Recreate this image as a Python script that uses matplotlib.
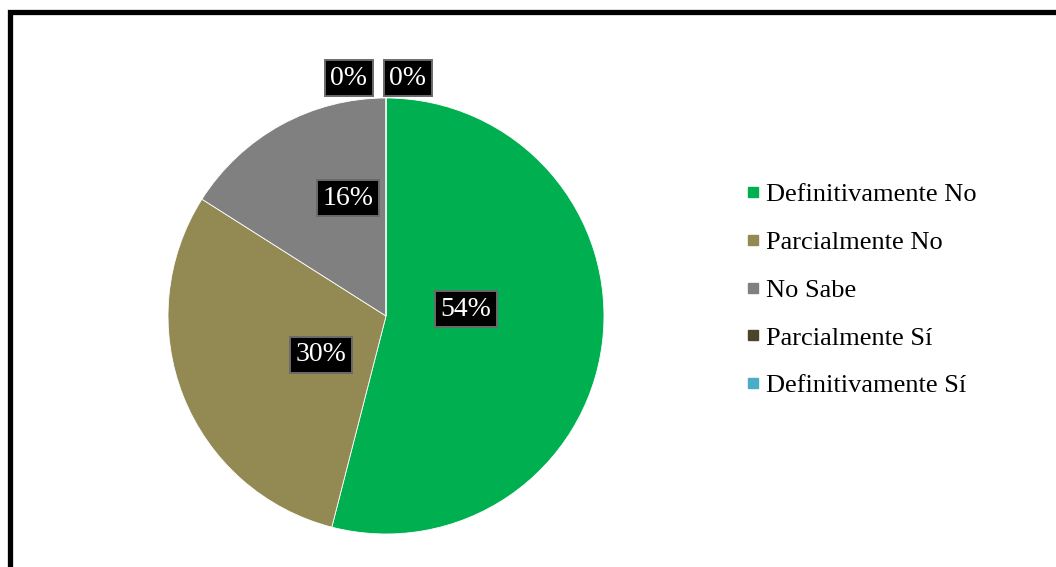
import numpy as np
import matplotlib
matplotlib.use("Agg")
from matplotlib import pyplot as plt
from matplotlib.patches import Rectangle
from matplotlib.lines import Line2D

categorias = ['Definitivamente No', 'Parcialmente No', 'No Sabe',
              'Parcialmente Sí', 'Definitivamente Sí']
porcentajes = [54, 30, 16, 0, 0]
colores = ['#00B050', '#938953', '#808080', '#4A452A', '#4BACC6']

# distancia radial de cada etiqueta (fraccion del radio) y ajuste fino x/y
dist_etiqueta = [0.37, 0.36, 0.57, 1.09, 1.09]
desp_x = [0, 0.037, 0.10, -0.17, 0.10]
desp_y = [0.078, -0.046, 0.04, 0, 0]

plt.rcParams['font.family'] = ['Liberation Serif', 'DejaVu Serif']

fig = plt.figure(figsize=(10.56, 5.67), dpi=100)
fig.patch.set_facecolor('white')

# marco del grafico (cortado a la derecha y abajo)
fig.patches.append(Rectangle((0.009, -0.2), 1.3, 0.978 + 0.2, transform=fig.transFigure,
                             fill=False, ec='black', lw=3.8, zorder=0))

ax = fig.add_axes([168 / 1056, 33 / 567, 436 / 1056, 436 / 567])
wedges, _ = ax.pie(porcentajes, colors=colores, startangle=90, counterclock=False,
                   radius=1, wedgeprops=dict(edgecolor='white', linewidth=0.6))
ax.set_xlim(-1, 1)
ax.set_ylim(-1, 1)
ax.set_aspect('equal')
ax.axis('off')

for w, p, r, dx, dy in zip(wedges, porcentajes, dist_etiqueta, desp_x, desp_y):
    ang = np.deg2rad((w.theta1 + w.theta2) / 2)
    x = r * np.cos(ang) + dx
    y = r * np.sin(ang) + dy
    ax.text(x, y, f'{p}%', ha='center', va='center', color='white', fontsize=20,
            clip_on=False, zorder=5,
            bbox=dict(boxstyle='square,pad=0.2', fc='black', ec='#6a6a6a', lw=1.4))

handles = [Line2D([0], [0], marker='s', color='none', markerfacecolor=c,
                  markeredgecolor=c, markersize=7.5) for c in colores]
fig.legend(handles, categorias, loc='upper left', bbox_to_anchor=(0.697, 0.696),
           frameon=False, fontsize=19, handlelength=0.5, handletextpad=0.25,
           labelspacing=0.92, borderaxespad=0)

fig.savefig('out.png', dpi=100)
